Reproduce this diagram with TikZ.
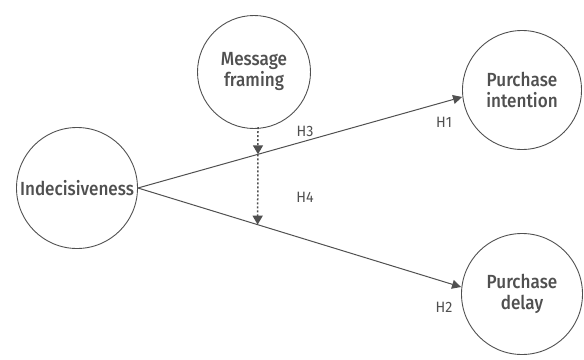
\documentclass[tikz,border=0pt]{standalone}
\usepackage{fontspec}
\setmainfont[FakeStretch=0.95]{Fira Sans}
\newfontfamily\medfont[FakeStretch=0.9]{Fira Sans Medium}
\usetikzlibrary{arrows.meta,calc}
\definecolor{ink}{HTML}{505050}
\begin{document}
\begin{tikzpicture}[x=1pt,y=-1pt,
  var/.style={circle,draw=ink,line width=0.9pt,minimum size=#1,inner sep=0pt,
    align=center,text=ink,font=\medfont\fontsize{19}{21}\selectfont},
  path/.style={draw=ink,line width=1pt,-{Triangle[length=9pt,width=9pt]}},
  mod/.style={draw=ink,line width=1.5pt,dash pattern=on 2pt off 2pt,-{Triangle[length=9pt,width=10pt]}},
  hlab/.style={text=ink,font=\fontsize{15}{17}\selectfont,inner sep=0pt}]
\useasboundingbox (0,0) rectangle (584,359);
\node[var=121pt] (ind) at (77,188) {Indecisiveness};
\node[var=113pt] (msg) at (254,72) {Message\\framing};
\node[var=119pt] (pi) at (522,90) {Purchase\\intention};
\node[var=121pt] (pd) at (522,294) {Purchase\\delay};
\coordinate (src) at (ind.east);
\draw[path] (src) -- (pi.west |- 0,97) coordinate (t1);
\draw[path] (src) -- (pd.west |- 0,287) coordinate (t2);
\coordinate (m0) at (258,127);
\coordinate (m1) at ($(src)!{(258-138)/(462-138)}!(t1)$);
\coordinate (m2) at ($(src)!{(258-138)/(462-138)}!(t2)$);
\draw[mod] (m0) -- (m1);
\draw[mod] (m1) -- (m2);
\node[hlab] (h3) at (305,131) {H3};
\node[hlab] (h1) at (444,122) {H1};
\node[hlab] (h4) at (305,197) {H4};
\node[hlab] (h2) at (444,307) {H2};
\end{tikzpicture}
\end{document}
